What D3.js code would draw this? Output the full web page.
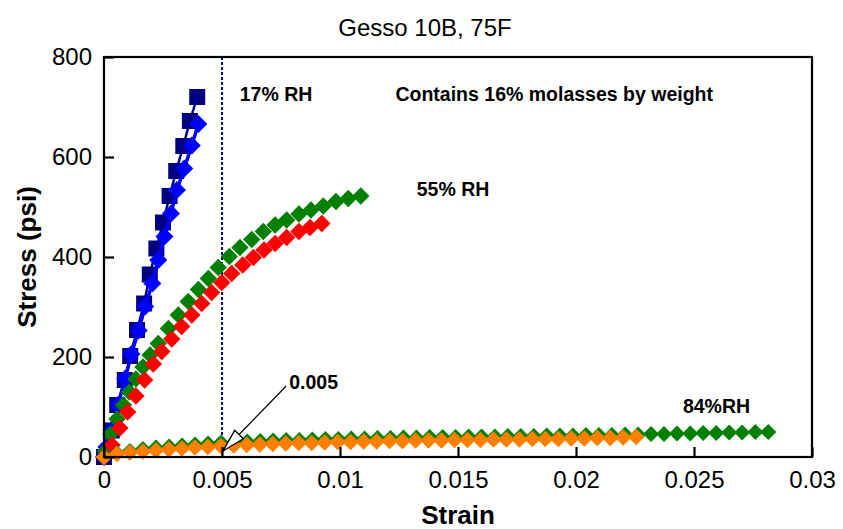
<!DOCTYPE html>
<html>
<head>
<meta charset="utf-8">
<script src="https://cdn.jsdelivr.net/npm/d3@7"></script>
<style>
  html, body { margin: 0; padding: 0; background: #fff; }
  svg { display: block; font-family: "Liberation Sans", Arial, sans-serif; }
</style>
</head>
<body>
<svg id="chart" width="843" height="529"></svg>
<script>
// ---- Data ----
const titleText = "Gesso 10B, 75F";
const xTicks = [0, 0.005, 0.01, 0.015, 0.02, 0.025, 0.03];
const xTickLabels = ["0", "0.005", "0.01", "0.015", "0.02", "0.025", "0.03"];
const yTicks = [0, 200, 400, 600, 800];
const yTickLabels = ["0", "200", "400", "600", "800"];

// 17% RH, specimen A (navy squares)
const rh17aStrain = [0, 0.00033, 0.00056, 0.00088, 0.00111, 0.0014, 0.0017, 0.00194, 0.00222, 0.0025, 0.00278, 0.00306, 0.00336, 0.00364, 0.00395];
const rh17aStress = [0, 53, 104, 154, 202, 254, 307, 365, 417, 469, 522, 572, 622, 672, 720];
// 17% RH, specimen B (blue diamonds)
const rh17bStrain = [0, 0.0001, 0.00031, 0.00059, 0.0009, 0.00116, 0.00147, 0.00174, 0.00205, 0.0023, 0.00256, 0.00284, 0.00309, 0.0034, 0.00372, 0.004];
const rh17bStress = [0, 20, 54, 104, 157, 206, 253, 301, 347, 394, 441, 487, 534, 577, 623, 666];
// 55% RH, specimen A (green diamonds)
const rh55aStrain = [0, 0.00006, 0.00028, 0.00055, 0.00082, 0.00108, 0.00135, 0.00165, 0.00195, 0.0023, 0.00273, 0.00315, 0.00357, 0.004, 0.00442, 0.00484, 0.00531, 0.00576, 0.00626, 0.00675, 0.00725, 0.00774, 0.00826, 0.00877, 0.00929, 0.00983, 0.01035, 0.01088];
const rh55aStress = [0, 12, 46, 76, 104, 130, 156, 180, 204, 227, 257, 284, 311, 335, 357, 379, 401, 419, 435, 451, 464, 474, 486, 494, 502, 511, 517, 522];
// 55% RH, specimen B (red diamonds)
const rh55bStrain = [0, 0.00034, 0.00067, 0.001, 0.00135, 0.00172, 0.00209, 0.00245, 0.00287, 0.00329, 0.00372, 0.00414, 0.00456, 0.00499, 0.00541, 0.00588, 0.00633, 0.00678, 0.00725, 0.00774, 0.00826, 0.00873, 0.00923];
const rh55bStress = [0, 24, 58, 90, 122, 154, 186, 211, 236, 261, 284, 307, 329, 349, 367, 384, 399, 414, 427, 439, 451, 459, 467];
// 84% RH, specimen A (green diamonds)
const rh84aStrain = [0, 0.00055, 0.0011, 0.00165, 0.0022, 0.00276, 0.00331, 0.00386, 0.00441, 0.00496, 0.00552, 0.00607, 0.00662, 0.00717, 0.00772, 0.00828, 0.00883, 0.00938, 0.00993, 0.01048, 0.01104, 0.01159, 0.01214, 0.01269, 0.01324, 0.0138, 0.01435, 0.0149, 0.01545, 0.016, 0.01656, 0.01711, 0.01766, 0.01821, 0.01876, 0.01932, 0.01987, 0.02042, 0.02097, 0.02152, 0.02208, 0.02263, 0.02318, 0.02373, 0.02428, 0.02484, 0.02539, 0.02594, 0.02649, 0.02704, 0.0276, 0.02815];
const rh84aStress = [0, 8, 12, 16, 19, 21, 23, 25, 27, 29, 30, 31, 32, 33, 34, 34, 35, 36, 36, 37, 37, 38, 38, 39, 39, 40, 40, 40, 41, 41, 41, 42, 42, 42, 43, 43, 43, 44, 44, 44, 45, 45, 46, 46, 47, 47, 48, 48, 49, 49, 50, 50];
// 84% RH, specimen B (orange diamonds)
const rh84bStrain = [0, 0.00055, 0.0011, 0.00165, 0.0022, 0.00275, 0.0033, 0.00385, 0.0044, 0.00495, 0.0055, 0.00605, 0.0066, 0.00715, 0.0077, 0.00825, 0.0088, 0.00935, 0.0099, 0.01045, 0.011, 0.01155, 0.0121, 0.01265, 0.0132, 0.01375, 0.0143, 0.01485, 0.0154, 0.01595, 0.0165, 0.01705, 0.0176, 0.01815, 0.0187, 0.01925, 0.0198, 0.02035, 0.0209, 0.02145, 0.022, 0.02255];
const rh84bStress = [0, 6, 9, 11, 13, 15, 17, 19, 20, 22, 23, 24, 25, 26, 27, 28, 28, 29, 30, 30, 31, 31, 32, 32, 33, 33, 33, 34, 34, 34, 35, 35, 35, 36, 36, 36, 37, 37, 38, 38, 39, 40];

const refStrain = 0.005;
const annotations = [
  { text: "17% RH", x: 0.00575, y: 712 },
  { text: "Contains 16% molasses by weight", x: 0.01235, y: 712 },
  { text: "55% RH", x: 0.01325, y: 522 },
  { text: "0.005", x: 0.00785, y: 136 },
  { text: "84%RH", x: 0.02453, y: 88 }
];

// ---- Layout ----
const W = 843, H = 529;
const m = { left: 104, top: 57, right: 31, bottom: 72 };
const pw = W - m.left - m.right, ph = H - m.top - m.bottom;

const svg = d3.select("#chart");
const x = d3.scaleLinear().domain([0, 0.03]).range([m.left, m.left + pw]);
const y = d3.scaleLinear().domain([0, 800]).range([m.top + ph, m.top]);

// title
svg.append("text").attr("x", 425).attr("y", 36).attr("text-anchor", "middle")
  .attr("font-size", 24).attr("fill", "#000").text(titleText);

// reference dotted line
svg.append("line")
  .attr("x1", x(refStrain)).attr("x2", x(refStrain))
  .attr("y1", y(800)).attr("y2", y(0))
  .attr("stroke", "#00008B").attr("stroke-width", 2).attr("stroke-dasharray", "3,2");

function zip(a, b) { return a.map((v, i) => [v, b[i]]); }
const series = [
  { pts: zip(rh17aStrain, rh17aStress), color: "#000080", shape: "square", size: 16, line: 2.5 },
  { pts: zip(rh17bStrain, rh17bStress), color: "#0000FF", shape: "diamond", size: 9, line: 3.5 },
  { pts: zip(rh55aStrain, rh55aStress), color: "#008000", shape: "diamond", size: 8.7, line: 0 },
  { pts: zip(rh55bStrain, rh55bStress), color: "#FF0000", shape: "diamond", size: 8.7, line: 0 },
  { pts: zip(rh84aStrain, rh84aStress), color: "#008000", shape: "diamond", size: 8, line: 0 },
  { pts: zip(rh84bStrain, rh84bStress), color: "#FF8000", shape: "diamond", size: 8.3, line: 0 }
];

const dataG = svg.append("g");
const lineGen = d3.line().x(d => x(d[0])).y(d => y(d[1]));
series.forEach(s => {
  const g = dataG.append("g");
  if (s.line > 0) {
    g.append("path").attr("d", lineGen(s.pts)).attr("fill", "none")
      .attr("stroke", s.color).attr("stroke-width", s.line);
  }
  g.selectAll("path.m").data(s.pts).enter().append("path").attr("class", "m")
    .attr("transform", d => `translate(${x(d[0])},${y(d[1])})`)
    .attr("d", () => {
      const r = s.size;
      if (s.shape === "square") { const h = r / 2; return `M${-h},${-h}H${h}V${h}H${-h}Z`; }
      return `M0,${-r}L${r},0L0,${r}L${-r},0Z`;
    })
    .attr("fill", s.color);
});

// frame
svg.append("rect").attr("x", m.left).attr("y", m.top).attr("width", pw).attr("height", ph)
  .attr("fill", "none").attr("stroke", "#000").attr("stroke-width", 2.2);

// axes with inward ticks
const xAxis = d3.axisBottom(x).tickValues(xTicks).tickSize(-10).tickPadding(14)
  .tickFormat((d, i) => xTickLabels[i]);
const gx = svg.append("g").attr("transform", `translate(0,${m.top + ph})`).call(xAxis);
gx.select(".domain").remove();
gx.selectAll("line").attr("stroke", "#000").attr("stroke-width", 2.2);
gx.selectAll("text").attr("font-size", 24).attr("fill", "#000")
  .attr("font-family", "Liberation Sans, Arial, sans-serif");

const yAxis = d3.axisLeft(y).tickValues(yTicks).tickSize(-10).tickPadding(12)
  .tickFormat((d, i) => yTickLabels[i]);
const gy = svg.append("g").attr("transform", `translate(${m.left},0)`).call(yAxis);
gy.select(".domain").remove();
gy.selectAll("line").attr("stroke", "#000").attr("stroke-width", 2.2);
gy.selectAll("text").attr("font-size", 24).attr("fill", "#000")
  .attr("font-family", "Liberation Sans, Arial, sans-serif");

// axis titles
svg.append("text").attr("x", m.left + pw / 2).attr("y", 524).attr("text-anchor", "middle")
  .attr("font-size", 26).attr("font-weight", "bold").text("Strain");
svg.append("text").attr("transform", `translate(36,${m.top + ph / 2}) rotate(-90)`)
  .attr("text-anchor", "middle").attr("font-size", 26).attr("font-weight", "bold").text("Stress (psi)");

// annotations
annotations.forEach(a => {
  svg.append("text").attr("x", x(a.x)).attr("y", y(a.y)).attr("font-size", 19.5)
    .attr("font-weight", "bold").attr("fill", "#000").text(a.text);
});

// arrow pointing at 0.005 on the axis
const ax0 = x(0.00772), ay0 = y(142);
const ax1 = x(refStrain) + 1, ay1 = y(12);
svg.append("line").attr("x1", ax0).attr("y1", ay0).attr("x2", ax1).attr("y2", ay1)
  .attr("stroke", "#000").attr("stroke-width", 1.2);
const ang = Math.atan2(ay0 - ay1, ax0 - ax1);
const L = 23, hw = 6;
const bx = ax1 + L * Math.cos(ang), by = ay1 + L * Math.sin(ang);
const px = -Math.sin(ang) * hw, py = Math.cos(ang) * hw;
svg.append("path")
  .attr("d", `M${ax1},${ay1}L${bx + px},${by + py}L${bx - px},${by - py}Z`)
  .attr("fill", "#fff").attr("stroke", "#000").attr("stroke-width", 1.3);
</script>
</body>
</html>
